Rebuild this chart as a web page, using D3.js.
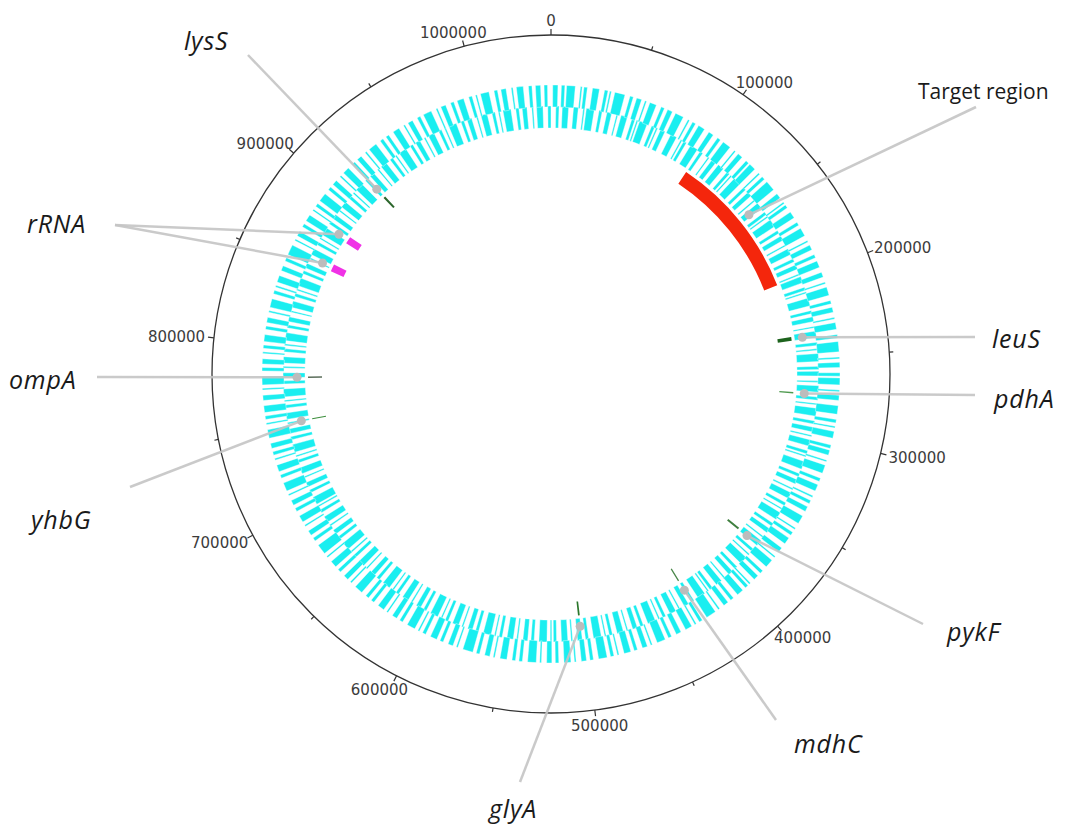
<!DOCTYPE html>
<html>
<head>
<meta charset="utf-8">
<script src="https://cdn.jsdelivr.net/npm/d3@7"></script>
<style>
  body { margin: 0; background: #fff; }
  svg { display: block; }
  .tick-label { font-family: "DejaVu Sans", sans-serif; font-size: 15px; fill: #3c3c3c; }
  .gene-label { font-family: "Open Sans", sans-serif; font-size: 25px; font-style: italic; fill: #1a1a1a; letter-spacing: 0.8px; }
  .plain-label { font-family: "Open Sans", sans-serif; font-size: 21px; fill: #1a1a1a; }
</style>
</head>
<body>
<div id="genomeMap"></div>
<script>
// genome size (bp) and ruler steps
var genomeLength = 1043000;
var majorStep = 100000;
var minorStep = 50000;

// CDS blocks on the forward strand, [start kb, length kb]
var forwardGenes = [
    [1,3],[6,2],[9,5],[17,1],[19,2],[24,4],[31,2],[34,1],[37,6],[46,2],[50,3],[55,1],[58,4],[65,2],[69,3],[74,5],[82,1],[85,2],[89,4],[96,3],
    [102,2],[106,5],[114,1],[117,3],[123,2],[126,4],[133,1],[136,2],[140,6],[149,3],[155,1],[157,2],[162,4],[169,2],[173,5],[181,1],[184,3],[190,2],[194,4],
    [201,3],[207,1],[210,5],[218,2],[222,3],[228,1],[231,4],[238,2],[242,6],[251,1],[254,3],[260,2],[263,4],[270,1],[273,3],[279,5],[287,2],[291,1],[294,4],
    [302,2],[305,3],[311,1],[314,5],[322,2],[326,4],[333,1],[336,2],[340,3],[346,5],[354,1],[357,2],[361,4],[368,3],[374,1],[377,5],[385,2],[389,3],[395,1],[397,2],
    [401,4],[408,2],[412,3],[418,1],[421,6],[430,2],[434,1],[437,4],[444,3],[450,2],[454,5],[462,1],[465,3],[471,2],[475,4],[482,1],[485,2],[489,5],[497,2],
    [501,3],[507,1],[510,4],[517,2],[521,3],[527,1],[530,5],[538,2],[542,2],[547,4],[554,1],[557,3],[563,2],[567,6],[576,1],[579,3],[585,2],[589,4],[596,2],
    [600,1],[603,5],[611,2],[615,3],[621,1],[624,4],[631,2],[635,2],[640,5],[648,1],[651,3],[657,2],[661,4],[668,1],[671,6],[680,2],[684,3],[690,1],[693,4],
    [700,2],[704,3],[710,1],[713,5],[721,2],[725,4],[732,1],[735,2],[739,3],[745,5],[753,1],[756,2],[760,4],[767,3],[773,1],[776,5],[784,2],[788,3],[794,1],[797,2],
    [801,4],[808,2],[812,3],[818,1],[821,5],[829,2],[833,1],[836,4],[843,3],[849,2],[853,6],[862,1],[865,3],[871,2],[875,4],[882,1],[885,2],[889,5],[897,2],
    [901,3],[907,1],[910,4],[917,2],[921,3],[927,1],[930,5],[938,2],[942,2],[947,4],[954,1],[957,3],[963,2],[967,5],[975,1],[978,3],[984,2],[988,4],[995,2],
    [999,1],[1002,5],[1010,2],[1014,3],[1020,1],[1023,4],[1030,2],[1034,3],[1039,2]
];

// CDS blocks on the reverse strand, [start kb, length kb]
var reverseGenes = [
    [3,2],[7,4],[14,3],[20,1],[22,5],[30,2],[35,3],[41,1],[44,4],[51,2],[54,1],[56,5],[64,2],[67,1],[70,3],[77,4],[84,1],[86,2],[91,5],[98,2],
    [104,1],[107,3],[112,4],[119,2],[122,1],[125,5],[133,2],[137,3],[143,1],[146,4],[153,2],[156,1],[159,5],[167,2],[171,3],[177,1],[180,4],[187,2],[191,3],[197,1],
    [199,4],[206,2],[209,1],[213,5],[221,2],[225,3],[231,1],[234,4],[241,2],[245,1],[248,5],[256,2],[259,3],[265,1],[268,4],[275,2],[279,1],[282,5],[290,2],[294,3],
    [299,1],[302,4],[309,2],[312,1],[316,5],[324,2],[328,3],[334,1],[337,4],[344,2],[348,1],[351,5],[359,2],[363,3],[369,1],[372,4],[379,2],[383,1],[386,5],[394,2],
    [398,3],[404,1],[407,4],[414,2],[417,1],[420,5],[428,2],[432,3],[438,1],[441,4],[448,2],[452,1],[455,5],[463,2],[467,3],[473,1],[476,4],[483,2],[487,1],[490,5],[498,2],
    [502,3],[508,1],[511,4],[518,2],[521,1],[524,5],[532,2],[536,3],[542,1],[545,4],[552,2],[556,1],[559,5],[567,2],[571,3],[577,1],[580,4],[587,2],[591,1],[594,5],
    [602,2],[606,3],[612,1],[615,4],[622,2],[626,1],[629,5],[637,2],[641,3],[647,1],[650,4],[657,2],[661,1],[664,5],[672,2],[676,3],[682,1],[685,4],[692,2],[696,1],
    [698,5],[706,2],[710,3],[716,1],[719,4],[726,2],[730,1],[733,5],[741,2],[745,3],[751,1],[754,4],[761,2],[765,1],[768,5],[776,2],[780,3],[786,1],[789,4],[796,2],
    [800,1],[803,5],[811,2],[815,3],[821,1],[824,4],[831,2],[835,1],[838,5],[846,2],[850,3],[856,1],[859,4],[866,2],[870,1],[873,5],[881,2],[885,3],[891,1],[894,4],
    [901,2],[905,1],[908,5],[916,2],[920,3],[926,1],[929,4],[936,2],[940,1],[943,5],[951,2],[955,3],[961,1],[964,4],[971,2],[975,1],[978,5],[986,2],[990,3],[996,1],
    [999,4],[1006,2],[1010,1],[1013,5],[1021,2],[1025,3],[1031,1],[1034,4],[1041,2]
];

// highlighted features (bp)
var featureNames  = ["Target region", "leuS", "pdhA", "pykF", "mdhC", "glyA", "yhbG", "ompA", "rRNA", "rRNA", "lysS"];
var featureStarts = [97900, 235400, 273000, 374500, 429300, 501800, 751100, 779600, 854800, 876500, 916800];
var featureEnds   = [198700, 238000, 274000, 375900, 430200, 503000, 751800, 780600, 859800, 881500, 918300];
var featureTypes  = ["target", "gene", "gene", "gene", "gene", "gene", "gene", "gene", "rRNA", "rRNA", "gene"];

var featureColors = {
    "Target region": "#f4260c", rRNA: "#f032e6",
    leuS: "#1d631d", pdhA: "#4f9a4f", pykF: "#3f7f3f", mdhC: "#4a874a",
    glyA: "#2b772b", yhbG: "#3d8f3d", ompA: "#5b6e5b", lysS: "#2c662c"
};

// where each callout line ends and its text sits (layout only)
var callouts = {
    "lysS":          { lx: 248, ly: 55,  tx: 184, ty: 50 },
    "Target region": { lx: 976, ly: 107, tx: 918, ty: 99, plain: true },
    "rRNA":          { lx: 115, ly: 225, tx: 27,  ty: 233 },
    "leuS":          { lx: 975, ly: 337, tx: 992, ty: 348 },
    "pdhA":          { lx: 975, ly: 395, tx: 994, ty: 408 },
    "ompA":          { lx: 97,  ly: 377, tx: 9,   ty: 389 },
    "yhbG":          { lx: 130, ly: 487, tx: 31,  ty: 529 },
    "pykF":          { lx: 923, ly: 624, tx: 947, ty: 641 },
    "mdhC":          { lx: 776, ly: 720, tx: 794, ty: 753 },
    "glyA":          { lx: 520, ly: 782, tx: 489, ty: 818 }
};

var width = 1082, height = 833;
var cx = 551, cy = 374;
var rOuter = 339;

var svg = d3.select("#genomeMap").append("svg")
    .attr("width", width)
    .attr("height", height);
var content = svg.append("g").attr("transform", "translate(" + cx + "," + cy + ")");

var angle = d3.scaleLinear().domain([0, genomeLength]).range([0, 2 * Math.PI]);

function polar(r, a) {
    return [r * Math.sin(a), -r * Math.cos(a)];
}

// gene tracks
function drawTrack(genes, r0, r1) {
    var arc = d3.arc().innerRadius(r0).outerRadius(r1);
    content.append("g").selectAll("path")
        .data(genes)
        .enter().append("path")
        .attr("d", d => arc({ startAngle: angle(d[0] * 1000), endAngle: angle((d[0] + d[1]) * 1000) }))
        .attr("fill", "#1aeef0")
        .attr("stroke", "#fff")
        .attr("stroke-width", 0.4);
}
drawTrack(reverseGenes, 246, 268);
drawTrack(forwardGenes, 267, 289);

// feature track
var features = featureNames.map((n, i) => ({
    name: n, start: featureStarts[i], end: featureEnds[i], type: featureTypes[i]
}));
var featArc = d3.arc().innerRadius(229).outerRadius(243);
content.append("g").selectAll("path")
    .data(features)
    .enter().append("path")
    .attr("d", d => featArc({ startAngle: angle(d.start), endAngle: angle(d.end) }))
    .attr("fill", d => featureColors[d.name]);

// outer ruler
content.append("circle")
    .attr("r", rOuter)
    .attr("fill", "none")
    .attr("stroke", "#333")
    .attr("stroke-width", 1.3);

var tickPos = d3.range(0, genomeLength, minorStep);
content.append("g").selectAll("line")
    .data(tickPos)
    .enter().append("line")
    .each(function (d) {
        var a = angle(d);
        var len = d % majorStep === 0 ? 6 : 4;
        var p0 = polar(rOuter, a), p1 = polar(rOuter + len, a);
        d3.select(this).attr("x1", p0[0]).attr("y1", p0[1]).attr("x2", p1[0]).attr("y2", p1[1]);
    })
    .attr("stroke", "#333")
    .attr("stroke-width", 1.2);

content.append("g").selectAll("text")
    .data(tickPos.filter(d => d % majorStep === 0))
    .enter().append("text")
    .attr("class", "tick-label")
    .text(d => d)
    .each(function (d) {
        var a = angle(d);
        var p = polar(rOuter + 9, a);
        var w = this.getComputedTextLength();
        var f = (1 - Math.sin(a)) / 2;
        var dy = 15 * 0.4 * (1 - Math.cos(a));
        d3.select(this).attr("x", p[0] - f * w).attr("y", p[1] + dy);
    });

// callout lines, dots and labels
var dotR = 254;
var labelled = {};
features.forEach(d => {
    var c = callouts[d.name];
    var a = angle((d.start + d.end) / 2);
    var p = polar(dotR, a);
    content.append("line")
        .attr("x1", p[0]).attr("y1", p[1])
        .attr("x2", c.lx - cx).attr("y2", c.ly - cy)
        .attr("stroke", "#c4c4c4")
        .attr("stroke-width", 2.5)
        .attr("stroke-opacity", 0.9);
    content.append("circle")
        .attr("cx", p[0]).attr("cy", p[1])
        .attr("r", 4.5)
        .attr("fill", "#bcbcbc");
    if (!labelled[d.name]) {
        labelled[d.name] = true;
        svg.append("text")
            .attr("class", c.plain ? "plain-label" : "gene-label")
            .attr("x", c.tx).attr("y", c.ty)
            .text(d.name);
    }
});
</script>
</body>
</html>
